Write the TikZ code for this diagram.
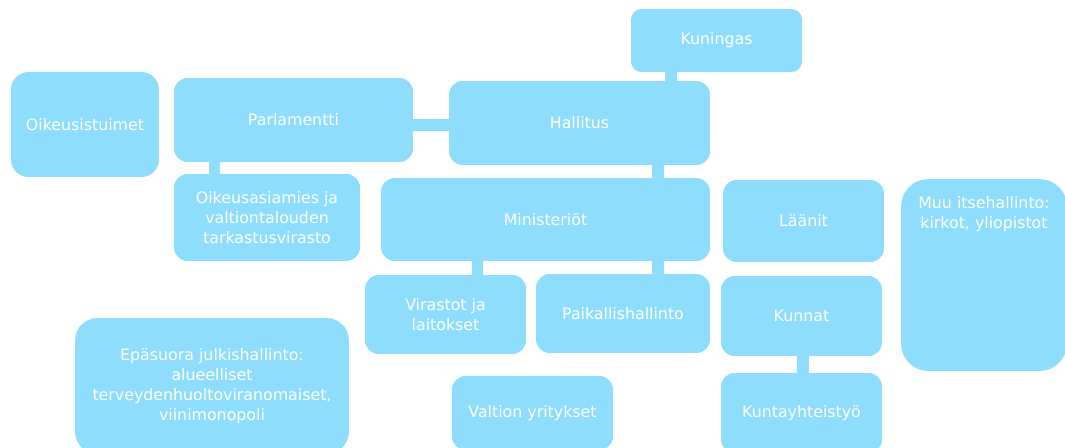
\documentclass[tikz,border=0pt]{standalone}
\usepackage{fontspec}
\setmainfont{DejaVu Sans}
\definecolor{boxblue}{RGB}{143,221,253}

\begin{document}
\begin{tikzpicture}[
    x=0.02cm, y=-0.02cm,
    box/.style={rectangle, fill=boxblue, draw=none, rounded corners=0.27cm,
                inner sep=0pt, outer sep=0pt,
                text centered, align=center, text=white,
                font=\fontsize{9}{11.4}\selectfont},
    link/.style={draw=boxblue, line width=0.23cm}
]
    \useasboundingbox (0,0) rectangle (1065,447);

    % ylin taso
    \node[box, minimum width=3.42cm, minimum height=1.26cm,
        rounded corners=0.21cm] (kuningas) at (716.5, 40.5) {Kuningas};
    \node[box, minimum width=2.96cm, minimum height=2.10cm,
        rounded corners=0.35cm] (tuomiot) at (85, 124.5) {Oikeusistuimet};
    \node[box, minimum width=4.78cm, minimum height=1.68cm]
        (parlamentti) at (293.5, 120) {Parlamentti};
    \node[box, minimum width=5.22cm, minimum height=1.68cm]
        (hallitus) at (579.5, 123) {Hallitus};

    % toinen taso
    \node[box, minimum width=3.72cm, minimum height=1.74cm]
        (valvonta) at (267, 217.5)
        {Oikeusasiamies ja\\valtiontalouden\\tarkastusvirasto};
    \node[box, minimum width=6.58cm, minimum height=1.66cm]
        (ministeriot) at (545.5, 219.5) {Ministeriöt};
    \node[box, minimum width=3.22cm, minimum height=1.64cm]
        (laanit) at (803.5, 221) {Läänit};
    \node[box, minimum width=3.32cm, minimum height=3.84cm,
        rounded corners=0.55cm] (muu) at (984, 275)
        {\parbox[c][3.84cm][t]{3.32cm}{\centering\vspace*{0.34cm}%
        Muu itsehallinto:\\kirkot, yliopistot}};

    % kolmas taso
    \node[box, minimum width=3.22cm, minimum height=1.58cm]
        (virastot) at (445.5, 314.5) {Virastot ja\\laitokset};
    \node[box, minimum width=3.48cm, minimum height=1.58cm]
        (paikallis) at (623, 313.5) {Paikallishallinto};
    \node[box, minimum width=3.22cm, minimum height=1.60cm]
        (kunnat) at (801.5, 316) {Kunnat};

    % alin taso
    \node[box, minimum width=5.48cm, minimum height=2.72cm,
        rounded corners=0.45cm] (epasuora) at (212, 386)
        {Epäsuora julkishallinto:\\alueelliset\\terveydenhuoltoviranomaiset,\\viinimonopoli};
    \node[box, minimum width=3.22cm, minimum height=1.48cm]
        (yritykset) at (532.5, 413) {Valtion yritykset};
    \node[box, minimum width=3.22cm, minimum height=1.60cm]
        (yhteistyo) at (801.5, 413) {Kuntayhteistyö};

    % Parlamentti ja hallitus
    \draw[link] (parlamentti.east |- 0,125) -- (hallitus.west |- 0,125);

    % Kuningas hallitukseen
    \draw[link] (kuningas.south -| 671,0) -- (hallitus.north -| 671,0);

    % Parlamentti valvontaan
    \draw[link] (parlamentti.south -| 214.5,0) -- (valvonta.north -| 214.5,0);

    % Hallitus ministeriöihin
    \draw[link] (hallitus.south -| 658,0) -- (ministeriot.north -| 658,0);

    % Ministeriöt alas
    \draw[link] (ministeriot.south -| 477.5,0) -- (virastot.north -| 477.5,0);
    \draw[link] (ministeriot.south -| 658,0) -- (paikallis.north -| 658,0);

    % Kunnat kuntayhteistyöhön
    \draw[link] (kunnat.south -| 803,0) -- (yhteistyo.north -| 803,0);

\end{tikzpicture}
\end{document}
